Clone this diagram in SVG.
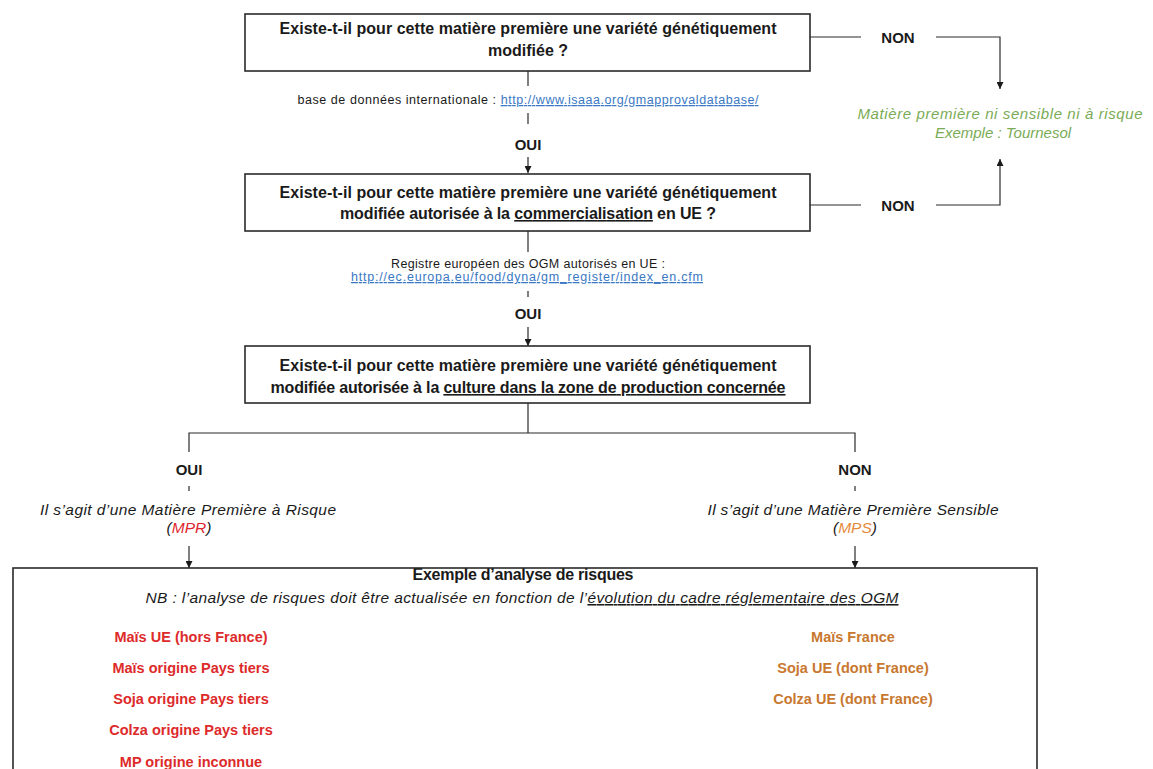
<svg xmlns="http://www.w3.org/2000/svg" width="1153" height="769" viewBox="0 0 1153 769">
<style>
  text { font-family: "Liberation Sans", Arial, sans-serif; fill: #1a1a1a; }
  .q { font-size: 16px; font-weight: bold; text-anchor: middle; }
  .lbl { font-size: 15px; font-weight: bold; text-anchor: middle; }
  .small { font-size: 12.5px; text-anchor: middle; }
  .link { fill: #3a78c4; text-decoration: underline; }
  .it { font-size: 15.5px; font-style: italic; text-anchor: middle; }
  .green { font-size: 15px; font-style: italic; text-anchor: middle; fill: #7aab55; }
  .red { font-size: 14.5px; font-weight: bold; text-anchor: middle; fill: #dd2a2a; }
  .orange { font-size: 14.5px; font-weight: bold; text-anchor: middle; fill: #c8782f; }
  .u { text-decoration: underline; }
  .box { fill: #ffffff; stroke: #2a2a2a; stroke-width: 1.6; }
  .frame { fill: none; stroke: #2a2a2a; stroke-width: 1.6; }
  .wire { fill: none; stroke: #2a2a2a; stroke-width: 1.2; }
</style>
<defs>
  <marker id="arr" viewBox="0 0 8 8" refX="8" refY="4" markerWidth="7" markerHeight="7" markerUnits="userSpaceOnUse" orient="auto">
    <path d="M0,0 L8,4 L0,8 z" fill="#1a1a1a"/>
  </marker>
</defs>
<rect width="1153" height="769" fill="#ffffff"/>

<g id="connectors">
  <line class="wire" x1="528" y1="71" x2="528" y2="86"/>
  <line class="wire" x1="528" y1="113" x2="528" y2="124"/>
  <line class="wire" x1="528" y1="157" x2="528" y2="173" marker-end="url(#arr)"/>
  <line class="wire" x1="528" y1="231" x2="528" y2="252"/>
  <line class="wire" x1="528" y1="291" x2="528" y2="297"/>
  <line class="wire" x1="528" y1="327" x2="528" y2="346" marker-end="url(#arr)"/>
  <polyline class="wire" points="528,403 528,433"/>
  <polyline class="wire" points="189,452 189,433 855,433 855,452"/>
  <line class="wire" x1="189" y1="486" x2="189" y2="491"/>
  <line class="wire" x1="855" y1="486" x2="855" y2="491"/>
  <line class="wire" x1="189" y1="546" x2="189" y2="568" marker-end="url(#arr)"/>
  <line class="wire" x1="855" y1="546" x2="855" y2="568" marker-end="url(#arr)"/>
  <line class="wire" x1="810" y1="37" x2="861" y2="37"/>
  <polyline class="wire" points="936,37 1000,37 1000,89" marker-end="url(#arr)"/>
  <line class="wire" x1="810" y1="205" x2="861" y2="205"/>
  <polyline class="wire" points="936,205 1000,205 1000,159" marker-end="url(#arr)"/>
  <text class="lbl" x="898" y="43">NON</text>
  <text class="lbl" x="898" y="211">NON</text>
  <text class="lbl" x="528" y="150">OUI</text>
  <text class="lbl" x="528" y="319">OUI</text>
  <text class="lbl" x="189" y="475">OUI</text>
  <text class="lbl" x="855" y="475">NON</text>
</g>

<g id="node-q1">
  <rect class="box" x="245" y="14" width="565" height="57"/>
  <text class="q" x="528" y="34" textLength="497">Existe-t-il pour cette matière première une variété génétiquement</text>
  <text class="q" x="528" y="56">modifiée ?</text>
</g>

<g id="node-db1">
  <text class="small" x="528" y="104" textLength="461">base de données internationale : <tspan class="link">http://www.isaaa.org/gmapprovaldatabase/</tspan></text>
</g>

<g id="node-q2">
  <rect class="box" x="245" y="174" width="565" height="57"/>
  <text class="q" x="528" y="198" textLength="497">Existe-t-il pour cette matière première une variété génétiquement</text>
  <text class="q" x="528" y="219" textLength="376">modifiée autorisée à la <tspan class="u">commercialisation</tspan>  en UE ?</text>
</g>

<g id="node-db2">
  <text class="small" x="528" y="268" textLength="274">Registre européen des OGM autorisés en UE :</text>
  <text class="small link" x="527" y="281" textLength="352">http://ec.europa.eu/food/dyna/gm_register/index_en.cfm</text>
</g>

<g id="node-q3">
  <rect class="box" x="245" y="346" width="565" height="57"/>
  <text class="q" x="528" y="371" textLength="497">Existe-t-il pour cette matière première une variété génétiquement</text>
  <text class="q" x="528" y="393" textLength="515">modifiée autorisée à la <tspan class="u">culture dans la zone de production concernée</tspan></text>
</g>

<g id="node-nonrisk">
  <text class="green" x="1000" y="119" textLength="285">Matière  première  ni sensible ni à risque</text>
  <text class="green" x="1003" y="138">Exemple : Tournesol</text>
</g>

<g id="node-mpr">
  <text class="it" x="188" y="515" textLength="296">Il s’agit d’une Matière  Première  à Risque</text>
  <text class="it" x="189" y="533">(<tspan fill="#e0262e">MPR</tspan>)</text>
</g>

<g id="node-mps">
  <text class="it" x="853" y="515" textLength="291">Il s’agit d’une Matière  Première  Sensible</text>
  <text class="it" x="855" y="533">(<tspan fill="#e5893a">MPS</tspan>)</text>
</g>

<g id="node-analysis">
  <text class="q" x="523" y="580" textLength="221">Exemple d’analyse  de risques</text>
  <rect class="frame" x="13" y="568" width="1024" height="230"/>
  <text class="it" x="522" y="603" textLength="753">NB : l’analyse de risques doit être  actualisée en fonction de l’<tspan class="u">évolution du cadre réglementaire  des OGM</tspan></text>
  <text class="red" x="191" y="642">Maïs UE (hors France)</text>
  <text class="red" x="191" y="673">Maïs origine Pays tiers</text>
  <text class="red" x="191" y="704">Soja origine Pays tiers</text>
  <text class="red" x="191" y="735">Colza origine Pays tiers</text>
  <text class="red" x="191" y="767">MP origine inconnue</text>
  <text class="orange" x="853" y="642">Maïs France</text>
  <text class="orange" x="853" y="673">Soja UE (dont France)</text>
  <text class="orange" x="853" y="704">Colza UE (dont France)</text>
</g>
</svg>
